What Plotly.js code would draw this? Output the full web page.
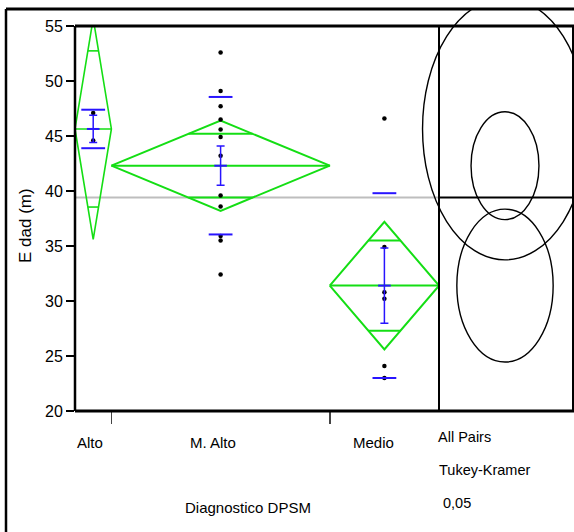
<!DOCTYPE html>
<html><head><meta charset="utf-8">
<script src="https://cdn.plot.ly/plotly-3.0.1.min.js"></script>
<style>html,body{margin:0;padding:0;background:#fff;overflow:hidden;} #chart{width:574px;height:532px;}</style>
</head><body><div id="chart"></div>
<script>
// ---------- data ----------
const groups = ['Alto', 'M. Alto', 'Medio'];
const counts = [2, 12, 6];
const pointsAlto = [47.1, 44.6];
const pointsMAlto = [52.6, 49.1, 47.7, 46.5, 45.6, 44.9, 43.2, 39.6, 38.6, 35.9, 35.5, 32.4];
const pointsMedio = [46.6, 34.9, 30.8, 30.2, 24.1, 23.0];
const means = [45.64, 42.3, 31.4];
const ciHalf = [10.04, 4.1, 5.8];
const stdDev = [1.75, 6.25, 8.4];
const stdErr = [1.24, 1.78, 3.42];
const grandMean = 39.4;
const circleRadius = [11.9, 4.9, 6.95];
const yTicks = [20, 25, 30, 35, 40, 45, 50, 55];
const yTitle = 'E dad (m)';
const xTitle = 'Diagnostico DPSM';
const panelLabels = ['All Pairs', 'Tukey-Kramer', '0,05'];

// ---------- layout constants (pixels) ----------
const W = 574, H = 532;
const plotL = 75, plotR = 439, plotT = 26, plotB = 411;
const panelR = 573, frameL = 6, frameT = 9;
const yMin = 20, yMax = 55;
const circleCx = 505, circleAspect = 0.63;
const labelShift = [-3, -8, -11];
const FONT = 'Liberation Sans, Arial, sans-serif';
const GREEN = 'rgb(20,222,20)';
const BLUE = 'rgb(40,20,255)';

const pointsByGroup = [pointsAlto, pointsMAlto, pointsMedio];
const total = counts.reduce((a, b) => a + b, 0);
const lefts = [], centers = [], rights = [];
let acc = 0;
counts.forEach(n => { lefts.push(acc); centers.push(acc + n / 2); acc += n; rights.push(acc); });
const boundaries = rights.slice(0, -1);

const traces = [];
// grand mean line
traces.push({x: [0, total], y: [grandMean, grandMean], mode: 'lines', line: {color: 'rgb(190,190,190)', width: 2}, hoverinfo: 'skip'});

// means diamonds
groups.forEach((g, i) => {
  const L = lefts[i], R = rights[i], C = centers[i], m = means[i], h = ciHalf[i];
  const d = h / Math.SQRT2;
  const hw = (R - L) / 2 * (1 - d / h);
  traces.push({
    x: [L, C, R, C, L, null, L, R, null, C - hw, C + hw, null, C - hw, C + hw],
    y: [m, m + h, m, m - h, m, null, m, m, null, m + d, m + d, null, m - d, m - d],
    mode: 'lines', line: {color: GREEN, width: i === 0 ? 1.6 : 2}, hoverinfo: 'skip'
  });
});

// raw points
groups.forEach((g, i) => {
  traces.push({x: pointsByGroup[i].map(() => centers[i]), y: pointsByGroup[i], mode: 'markers',
    marker: {symbol: 'circle', size: 4.5, color: 'black'}, hoverinfo: 'skip'});
});

// std dev lines
traces.push({
  x: centers.concat(centers), y: means.map((m, i) => m + stdDev[i]).concat(means.map((m, i) => m - stdDev[i])),
  mode: 'markers', marker: {symbol: 'line-ew-open', size: 17, color: BLUE, line: {color: BLUE, width: 2}}, hoverinfo: 'skip'
});
// mean + std error bars
traces.push({
  x: centers, y: means, mode: 'markers',
  marker: {symbol: 'line-ew-open', size: 9, color: BLUE, line: {color: BLUE, width: 2}},
  error_y: {type: 'data', array: stdErr, visible: true, color: BLUE, thickness: 1.5, width: 4},
  hoverinfo: 'skip'
});

const pyToVal = py => yMax - (py - plotT) * (yMax - yMin) / (plotB - plotT);
const sx = (plotB - plotT) / (yMax - yMin) * circleAspect;

const shapes = [];
// comparison circles
groups.forEach((g, i) => {
  const r = circleRadius[i];
  shapes.push({type: 'circle', xref: 'x2', yref: 'y2', x0: -r, x1: r, y0: means[i] - r, y1: means[i] + r,
    line: {color: 'black', width: 1.4}, layer: 'above'});
});
// grand mean line across the circle panel
shapes.push({type: 'line', xref: 'paper', yref: 'y', x0: plotR / W, x1: panelR / W, y0: grandMean, y1: grandMean,
  line: {color: 'black', width: 2}, layer: 'above'});
// frame lines
const px = v => v / W, py = v => 1 - v / H;
function seg(x0, y0, x1, y1, w) {
  shapes.push({type: 'line', xref: 'paper', yref: 'paper', x0: px(x0), y0: py(y0), x1: px(x1), y1: py(y1),
    line: {color: 'black', width: w}, layer: 'above'});
}
seg(frameL, frameT, W, frameT, 3);
seg(frameL, frameT, frameL, H, 2.5);
seg(plotL, plotT, W, plotT, 3);
seg(plotL, plotB, W, plotB, 3);
seg(plotL, plotT, plotL, plotB, 2.5);
seg(plotR, plotT, plotR, plotB, 2);
seg(panelR, plotT, panelR, plotB, 2);

const annotations = [];
groups.forEach((g, i) => {
  annotations.push({text: g, x: centers[i], xref: 'x', y: py(442), yref: 'paper', xshift: labelShift[i],
    showarrow: false, xanchor: 'center', yanchor: 'middle', font: {family: FONT, size: 15, color: 'black'}});
});
annotations.push({text: xTitle, x: px(248), y: py(507), xref: 'paper', yref: 'paper', showarrow: false,
  xanchor: 'center', yanchor: 'middle', font: {family: FONT, size: 15, color: 'black'}});
annotations.push({text: yTitle, x: px(25), y: py(226), xref: 'paper', yref: 'paper', showarrow: false, textangle: -90,
  xanchor: 'center', yanchor: 'middle', font: {family: FONT, size: 17, color: 'black'}});
const panelY = [437, 470, 503], panelX = [436, 437, 441];
panelLabels.forEach((t, i) => {
  annotations.push({text: t, x: px(panelX[i]), y: py(panelY[i]), xref: 'paper', yref: 'paper', showarrow: false,
    xanchor: 'left', yanchor: 'middle', font: {family: FONT, size: 14.5, color: 'black'}});
});

const layout = {
  width: W, height: H, autosize: false,
  margin: {l: 0, r: 0, t: 0, b: 0, pad: 0},
  paper_bgcolor: 'white', plot_bgcolor: 'rgba(0,0,0,0)',
  showlegend: false,
  xaxis: {domain: [px(plotL), px(plotR)], range: [0, total], showgrid: false, zeroline: false, showline: false,
    tickmode: 'array', tickvals: boundaries, ticks: 'outside', ticklen: 12, tickwidth: 1.5, tickcolor: '#444',
    showticklabels: false, fixedrange: true},
  yaxis: {domain: [py(plotB), py(plotT)], range: [yMin, yMax], showgrid: false, zeroline: false, showline: false,
    tickmode: 'array', tickvals: yTicks, ticks: 'outside', ticklen: 8, tickwidth: 2, tickcolor: 'black',
    tickfont: {family: FONT, size: 16, color: 'black'}, fixedrange: true},
  xaxis2: {domain: [px(frameL), 1], anchor: 'y2', visible: false,
    range: [(frameL - circleCx) / sx, (W - circleCx) / sx], fixedrange: true},
  yaxis2: {domain: [0, py(frameT)], anchor: 'x2', visible: false,
    range: [pyToVal(H), pyToVal(frameT)], fixedrange: true},
  shapes: shapes,
  annotations: annotations
};

Plotly.newPlot('chart', traces, layout, {displayModeBar: false, staticPlot: true});
</script>
</body></html>
